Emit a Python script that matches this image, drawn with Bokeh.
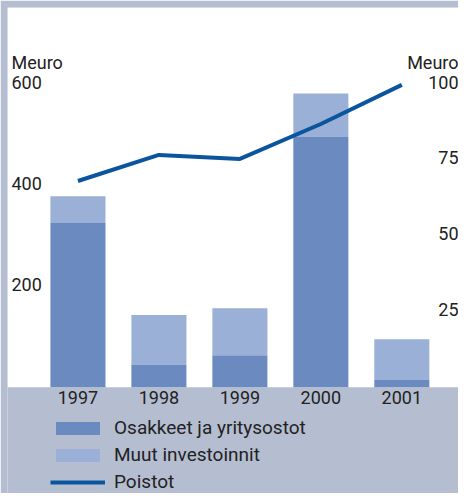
from bokeh.plotting import figure
from bokeh.models import (Range1d, Label, Legend, LegendItem, BoxAnnotation,
                          ColumnDataSource)
from bokeh.embed import file_html
from bokeh.resources import INLINE

# ---- data ----
years = [1997, 1998, 1999, 2000, 2001]
year_labels = ["1997", "1998", "1999", "2000", "2001"]
osakkeet = [325, 44, 63, 495, 14]        # Osakkeet ja yritysostot (left axis)
muut = [53, 99, 93, 86, 81]              # Muut investoinnit (left axis, stacked)
poistot = [68, 76.6, 75.3, 86.8, 99.7]   # Poistot (right axis)
left_ticks = [200, 400, 600]
right_ticks = [25, 50, 75, 100]
unit_label = "Meuro"
series_names = ["Osakkeet ja yritysostot", "Muut investoinnit", "Poistot"]

DARK = "#6a8ac0"
LIGHT = "#9bb0d6"
LINE = "#0a559e"
BG = "#b5bed1"
TXT = "#222222"
FONT = "Roboto"

src = ColumnDataSource(dict(year=years, osakkeet=osakkeet, muut=muut))

p = figure(width=458, height=493, output_backend="svg", toolbar_location=None,
           x_range=Range1d(1996.13, 2001.70), y_range=Range1d(-210.4, 751.4),
           x_axis_location=None, y_axis_location=None,
           min_border_left=7, min_border_right=0, min_border_top=7,
           min_border_bottom=0,
           background_fill_color=BG, border_fill_color=BG,
           outline_line_color=None)
p.extra_y_ranges = {"right": Range1d(-210.4 / 6, 751.4 / 6)}
p.grid.visible = False

# white chart panel above the zero line
p.add_layout(BoxAnnotation(bottom=0, fill_color="white", fill_alpha=1,
                           line_color=None, level="underlay"))

bars = p.vbar_stack(["osakkeet", "muut"], x="year", width=0.68, source=src,
                    color=[DARK, LIGHT], line_color=None)

ln = p.line(years, poistot, y_range_name="right", line_color=LINE,
            line_width=4, line_join="round")

# x tick labels
for yr, lab in zip(years, year_labels):
    p.add_layout(Label(x=yr, y=0, x_units="data", y_units="data",
                       y_offset=-10, text=lab, text_align="center",
                       text_baseline="middle", text_font=FONT,
                       text_font_size="18px", text_color=TXT))

# left tick labels (inside the white panel)
for v in left_ticks:
    p.add_layout(Label(x=4, x_units="screen", y=v, y_units="data",
                       y_offset=2, text=str(v), text_align="left",
                       text_baseline="middle", text_font=FONT,
                       text_font_size="18px", text_color=TXT))
p.add_layout(Label(x=4, x_units="screen", y=left_ticks[-1], y_units="data",
                   y_offset=22, text=unit_label, text_align="left",
                   text_baseline="middle", text_font=FONT,
                   text_font_size="18px", text_color=TXT))

# right tick labels
for v in right_ticks:
    p.add_layout(Label(x=451, x_units="screen", y=v, y_units="data",
                       y_range_name="right", y_offset=2, text=str(v),
                       text_align="right", text_baseline="middle",
                       text_font=FONT, text_font_size="18px", text_color=TXT))
p.add_layout(Label(x=451, x_units="screen", y=right_ticks[-1], y_units="data",
                   y_range_name="right", y_offset=22, text=unit_label,
                   text_align="right", text_baseline="middle", text_font=FONT,
                   text_font_size="18px", text_color=TXT))

legend = Legend(items=[LegendItem(label=series_names[0], renderers=[bars[0]]),
                       LegendItem(label=series_names[1], renderers=[bars[1]]),
                       LegendItem(label=series_names[2], renderers=[ln])],
                location=(43, 0), orientation="vertical",
                glyph_width=55, glyph_height=16, label_standoff=9,
                label_height=20, spacing=4, padding=0, margin=0,
                border_line_color=None, background_fill_alpha=0,
                label_text_font=FONT, label_text_font_size="19px",
                label_text_color=TXT)
p.add_layout(legend, "center")

open("out.html", "w").write(file_html(p, INLINE))
